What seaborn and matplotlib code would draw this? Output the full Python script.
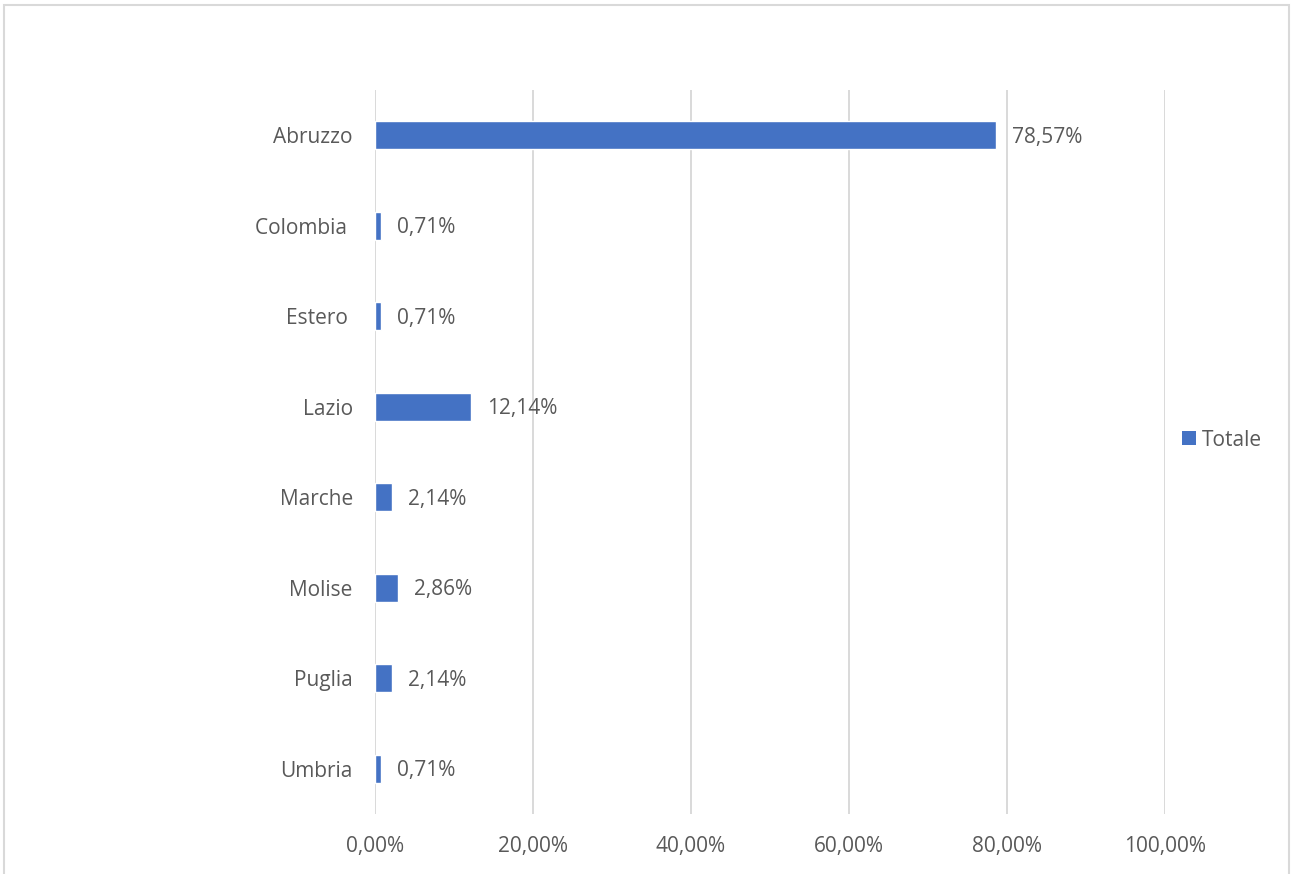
import matplotlib
matplotlib.use("Agg")
import matplotlib.pyplot as plt
import seaborn as sns
import pandas as pd
from matplotlib.patches import Rectangle, Patch
from matplotlib.ticker import FuncFormatter

# Share of respondents by region of origin (percent)
regions = ["Abruzzo", "Colombia ", "Estero ", "Lazio", "Marche", "Molise", "Puglia", "Umbria"]
shares = [78.57, 0.71, 0.71, 12.14, 2.14, 2.86, 2.14, 0.71]
x_ticks = [0, 20, 40, 60, 80, 100]
series_name = "Totale"

BAR_COLOR = "#4472C4"
TEXT_COLOR = "#595959"
GRID_COLOR = "#D9D9D9"
FONT = ["Open Sans", "DejaVu Sans"]
FS = 15

sns.set_theme(style="white")
plt.rcParams["font.family"] = FONT

df = pd.DataFrame({"Regione": regions, "Quota": shares})

fig = plt.figure(figsize=(12.94, 8.74), dpi=100)
ax = fig.add_axes([375 / 1294, 1 - 814 / 874, (1165 - 375) / 1294, (814 - 90) / 874])

sns.barplot(data=df, x="Quota", y="Regione", color=BAR_COLOR, width=0.31,
            orient="h", ax=ax, saturation=1, zorder=3)

ax.set_xlim(0, 100)
ax.set_ylim(len(regions) - 0.5, -0.5)
ax.set_xticks(x_ticks)
ax.xaxis.set_major_formatter(FuncFormatter(lambda v, _: f"{v:.2f}%".replace(".", ",")))
ax.grid(axis="x", color=GRID_COLOR, linewidth=1.4, zorder=0)
ax.grid(axis="y", visible=False)
for s in ax.spines.values():
    s.set_visible(False)
ax.set_xlabel("")
ax.set_ylabel("")
ax.tick_params(axis="x", length=0, pad=16, labelsize=FS, labelcolor=TEXT_COLOR)
ax.tick_params(axis="y", length=0, pad=16, labelsize=FS, labelcolor=TEXT_COLOR)

# Value labels next to each bar
for i, v in enumerate(shares):
    ax.annotate(f"{v:.2f}%".replace(".", ","), xy=(v, i), xytext=(11.5, -1.5),
                textcoords="offset points", va="center", ha="left",
                fontsize=FS, color=TEXT_COLOR)

# Legend on the right
handle = Patch(facecolor=BAR_COLOR, edgecolor="none", label=series_name)
fig.legend(handles=[handle], loc="center left", bbox_to_anchor=(1172 / 1294, 1 - 440 / 874),
           frameon=False, fontsize=FS, labelcolor=TEXT_COLOR, handlelength=0.65,
           handleheight=0.65, handletextpad=0.3, borderpad=0)

# Chart area border
fig.patches.append(Rectangle((4 / 1294, -0.05), (1289 - 4) / 1294, 1.05 - 5 / 874,
                             transform=fig.transFigure, fill=False,
                             edgecolor=GRID_COLOR, linewidth=1.5))

fig.savefig("out.png", dpi=100, facecolor="white")
